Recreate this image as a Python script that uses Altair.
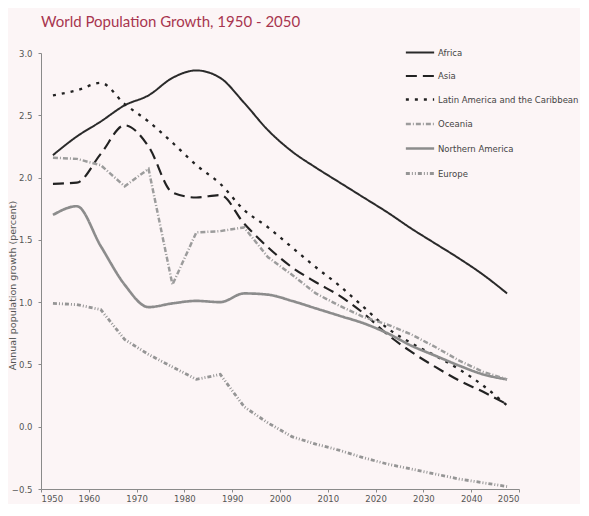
import altair as alt
import pandas as pd

years = [1952.5, 1957.5, 1962.5, 1967.5, 1972.5, 1977.5, 1982.5, 1987.5, 1992.5, 1997.5,
         2002.5, 2007.5, 2012.5, 2017.5, 2022.5, 2027.5, 2032.5, 2037.5, 2042.5, 2047.5]

africa = [2.18, 2.33, 2.45, 2.58, 2.66, 2.80, 2.86, 2.80, 2.60, 2.38,
          2.21, 2.08, 1.96, 1.84, 1.72, 1.59, 1.47, 1.35, 1.22, 1.07]
asia = [1.95, 1.96, 2.19, 2.42, 2.25, 1.88, 1.84, 1.86, 1.63, 1.44,
        1.28, 1.16, 1.05, 0.91, 0.74, 0.60, 0.48, 0.37, 0.28, 0.18]
latin = [2.66, 2.70, 2.76, 2.59, 2.45, 2.28, 2.10, 1.95, 1.74, 1.60,
         1.44, 1.28, 1.13, 0.96, 0.79, 0.67, 0.57, 0.46, 0.33, 0.17]
oceania = [2.16, 2.15, 2.10, 1.93, 2.07, 1.14, 1.56, 1.57, 1.60, 1.36,
           1.22, 1.07, 0.97, 0.88, 0.82, 0.74, 0.64, 0.53, 0.44, 0.38]
n_america = [1.70, 1.77, 1.45, 1.14, 0.96, 0.99, 1.01, 1.00, 1.07, 1.06,
             1.01, 0.95, 0.89, 0.83, 0.75, 0.65, 0.57, 0.49, 0.42, 0.38]
europe = [0.99, 0.98, 0.94, 0.70, 0.58, 0.48, 0.38, 0.42, 0.16, 0.03,
          -0.08, -0.14, -0.19, -0.25, -0.30, -0.34, -0.38, -0.42, -0.45, -0.48]

regions = ["Africa", "Asia", "Latin America and the Caribbean", "Oceania",
           "Northern America", "Europe"]
series = [africa, asia, latin, oceania, n_america, europe]
smooth_regions = ["Africa", "Asia", "Latin America and the Caribbean", "Northern America"]

colors = ["#2a2a2a", "#222222", "#222222", "#9c9c9c", "#8c8c8c", "#959595"]
dashes = [[1, 0], [11, 6], [3, 6], [5, 2, 1, 2], [1, 0], [4, 2, 1, 2, 1, 2]]
widths = [2.0, 2.8, 2.8, 1.0, 1.0, 1.0]

x_ticks = [1950, 1960, 1970, 1980, 1990, 2000, 2010, 2020, 2030, 2040, 2050]
y_ticks = [-0.5, 0.0, 0.5, 1.0, 1.5, 2.0, 2.5, 3.0]

rows = []
for name, vals in zip(regions, series):
    for yr, v in zip(years, vals):
        rows.append({"year": yr, "growth": v, "region": name})
df = pd.DataFrame(rows)

label_font = "DejaVu Sans"

x_enc = alt.X("year:Q",
              scale=alt.Scale(domain=[1950, 2050], nice=False, zero=False),
              axis=alt.Axis(values=x_ticks, format="d", title=None, grid=False,
                            labelFont=label_font, labelFontSize=8.5, labelColor="#555555",
                            domainColor="#8a8a8a", tickColor="#8a8a8a", tickSize=3,
                            labelPadding=2))
y_enc = alt.Y("growth:Q",
              scale=alt.Scale(domain=[-0.5, 3.0], nice=False, zero=False),
              axis=alt.Axis(values=y_ticks, format=".1f",
                            title="Annual population growth   (percent)",
                            grid=False, labelFont=label_font, labelFontSize=8.5,
                            labelColor="#555555", domainColor="#8a8a8a",
                            tickColor="#8a8a8a", tickSize=3, labelPadding=6,
                            titleFont=label_font, titleFontSize=9.5,
                            titleFontWeight="normal", titleColor="#555555",
                            titleX=-24, titleY=232, titleAngle=270,
                            titleBaseline="bottom", titleAlign="center"))

legend = alt.Legend(title=None, orient="none", legendX=363, legendY=-16,
                    symbolType="stroke", symbolSize=800, symbolStrokeWidth=2,
                    labelFont=label_font, labelFontSize=8.5, labelColor="#444444",
                    rowPadding=3.5, labelOffset=2, padding=0, labelLimit=300)

color_enc = alt.Color("region:N", scale=alt.Scale(domain=regions, range=colors), legend=legend)
dash_enc = alt.StrokeDash("region:N", scale=alt.Scale(domain=regions, range=dashes), legend=legend)
width_enc = alt.StrokeWidth("region:N", scale=alt.Scale(domain=regions, range=widths), legend=legend)

base = alt.Chart(df).encode(x=x_enc, y=y_enc, color=color_enc, strokeDash=dash_enc,
                            strokeWidth=width_enc, detail="region:N")

smooth = base.transform_filter(
    alt.FieldOneOfPredicate(field="region", oneOf=smooth_regions)
).mark_line(interpolate="monotone")
straight = base.transform_filter(
    {"not": alt.FieldOneOfPredicate(field="region", oneOf=smooth_regions)}
).mark_line(interpolate="linear")

chart = alt.layer(smooth, straight).properties(
    width=478, height=436,
    title=alt.TitleParams("World Population Growth, 1950 - 2050", anchor="start",
                          frame="group", font="Lato", fontSize=15, fontWeight="normal",
                          color="#a8354f", offset=7),
    background="#fcf5f6",
    padding={"left": 33, "top": 45, "right": 61, "bottom": 15},
    autosize=alt.AutoSizeParams(type="none"),
).configure_view(stroke=None)

chart.save("out.html", embed_options={"renderer": "svg", "actions": False})
